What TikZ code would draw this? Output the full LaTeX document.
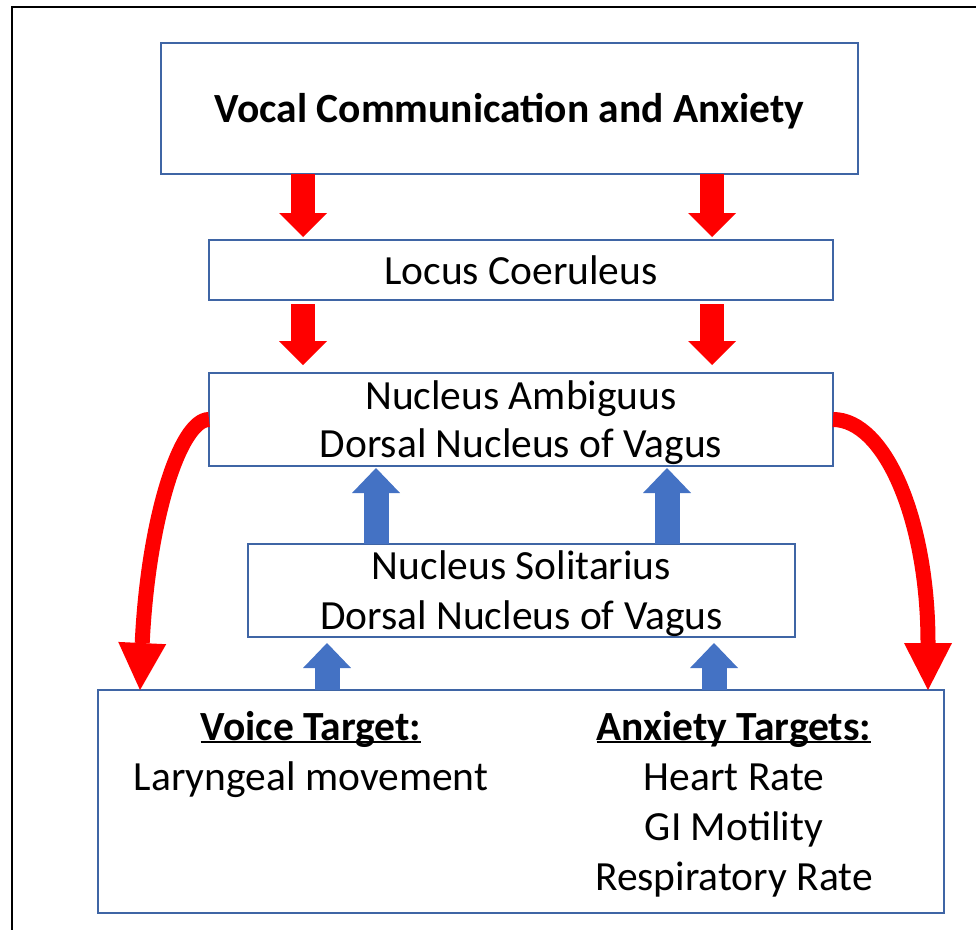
\documentclass[tikz,border=0pt]{standalone}
\usepackage{fontspec}
\setmainfont{Carlito}
\usetikzlibrary{arrows.meta,positioning}

\definecolor{boxblue}{HTML}{3F65A5}
\definecolor{upblue}{HTML}{4472C4}
\definecolor{downred}{HTML}{FF0000}

\newcommand{\targethead}[1]{\setbox0\hbox{\bfseries #1}\rlap{\rule[-3pt]{\wd0}{2pt}}\box0}

\begin{document}
\begin{tikzpicture}[
        x=1pt, y=-1pt,
        every node/.style={inner sep=0pt, outer sep=0pt, align=center, font=\fontsize{41.5}{48}\selectfont},
        box/.style={draw=boxblue, line width=2pt, fill=white},
        redblock/.style={draw=downred, line width=24pt, -{Triangle[width=48pt, length=24pt, line width=0pt]}},
        blueblock/.style={draw=upblue, line width=25pt, -{Triangle[width=48pt, length=25pt, line width=0pt]}},
        redcurve/.style={draw=downred, line width=15pt, -{Triangle[width=48pt, length=47pt, line width=0pt]}}
    ]

    \useasboundingbox (0,0) rectangle (976,929);
    \clip (0,0) rectangle (976,929);
    \draw[line width=2pt] (12,7) rectangle (1000,960);

    % Nodes
    \node[box, minimum width=697pt, minimum height=131pt, text depth=0.5pt, font=\bfseries\fontsize{41.5}{48}\selectfont] (title) at (509.5,108.5) {Vocal Communication and Anxiety};
    \node[box, minimum width=624pt, minimum height=60pt, below=66pt of title, xshift=11.5pt] (lc) {Locus Coeruleus};
    \node[box, minimum width=624pt, minimum height=93pt, text depth=0.5pt, below=73pt of lc] (na) {Nucleus Ambiguus\\Dorsal Nucleus of Vagus};
    \node[box, minimum width=547pt, minimum height=93pt, text depth=0.5pt, font=\fontsize{41.5}{50}\selectfont, below=78pt of na, xshift=0.5pt] (ns) {Nucleus Solitarius\\Dorsal Nucleus of Vagus};
    \node[box, minimum width=846pt, minimum height=223pt, below=53pt of ns, xshift=-0.5pt] (targets) {};

    \node[anchor=north, font=\fontsize{41.5}{50}\selectfont] (voice) at ([xshift=-210pt, yshift=-21pt]targets.north) {\targethead{Voice Target:}\\Laryngeal movement};
    \node[anchor=north, font=\fontsize{41.5}{50}\selectfont] (anxiety) at ([xshift=213pt, yshift=-21pt]targets.north) {\targethead{Anxiety Targets:}\\Heart Rate\\GI Motility\\Respiratory Rate};

    \coordinate (redl) at (303,0);
    \coordinate (redr) at (712,0);
    \coordinate (upl) at (376,0);
    \coordinate (upr) at (667,0);
    \coordinate (lowl) at (327,0);
    \coordinate (lowr) at (714,0);
    \coordinate (voicetip) at ([xshift=42pt]targets.north west);
    \coordinate (anxtip) at ([xshift=-16pt]targets.north east);

    % Edges
    \draw[redblock, shorten >=3pt] (redl |- title.south) -- (redl |- lc.north);
    \draw[redblock, shorten >=3pt] (redr |- title.south) -- (redr |- lc.north);
    \draw[redblock, shorten <=4pt, shorten >=8pt] (redl |- lc.south) -- (redl |- na.north);
    \draw[redblock, shorten <=4pt, shorten >=8pt] (redr |- lc.south) -- (redr |- na.north);

    \draw[blueblock, shorten >=2pt] (upl |- ns.north) -- (upl |- na.south);
    \draw[blueblock, shorten >=2pt] (upr |- ns.north) -- (upr |- na.south);
    \draw[blueblock, shorten >=6pt] (lowl |- targets.north) -- (lowl |- ns.south);
    \draw[blueblock, shorten >=6pt] (lowr |- targets.north) -- (lowr |- ns.south);

    \draw[redcurve] (na.west) .. controls +(-29,0) and +(8,-170) .. (voicetip);
    \draw[redcurve] (na.east) .. controls +(52,0) and +(0,-170) .. (anxtip);

\end{tikzpicture}
\end{document}
